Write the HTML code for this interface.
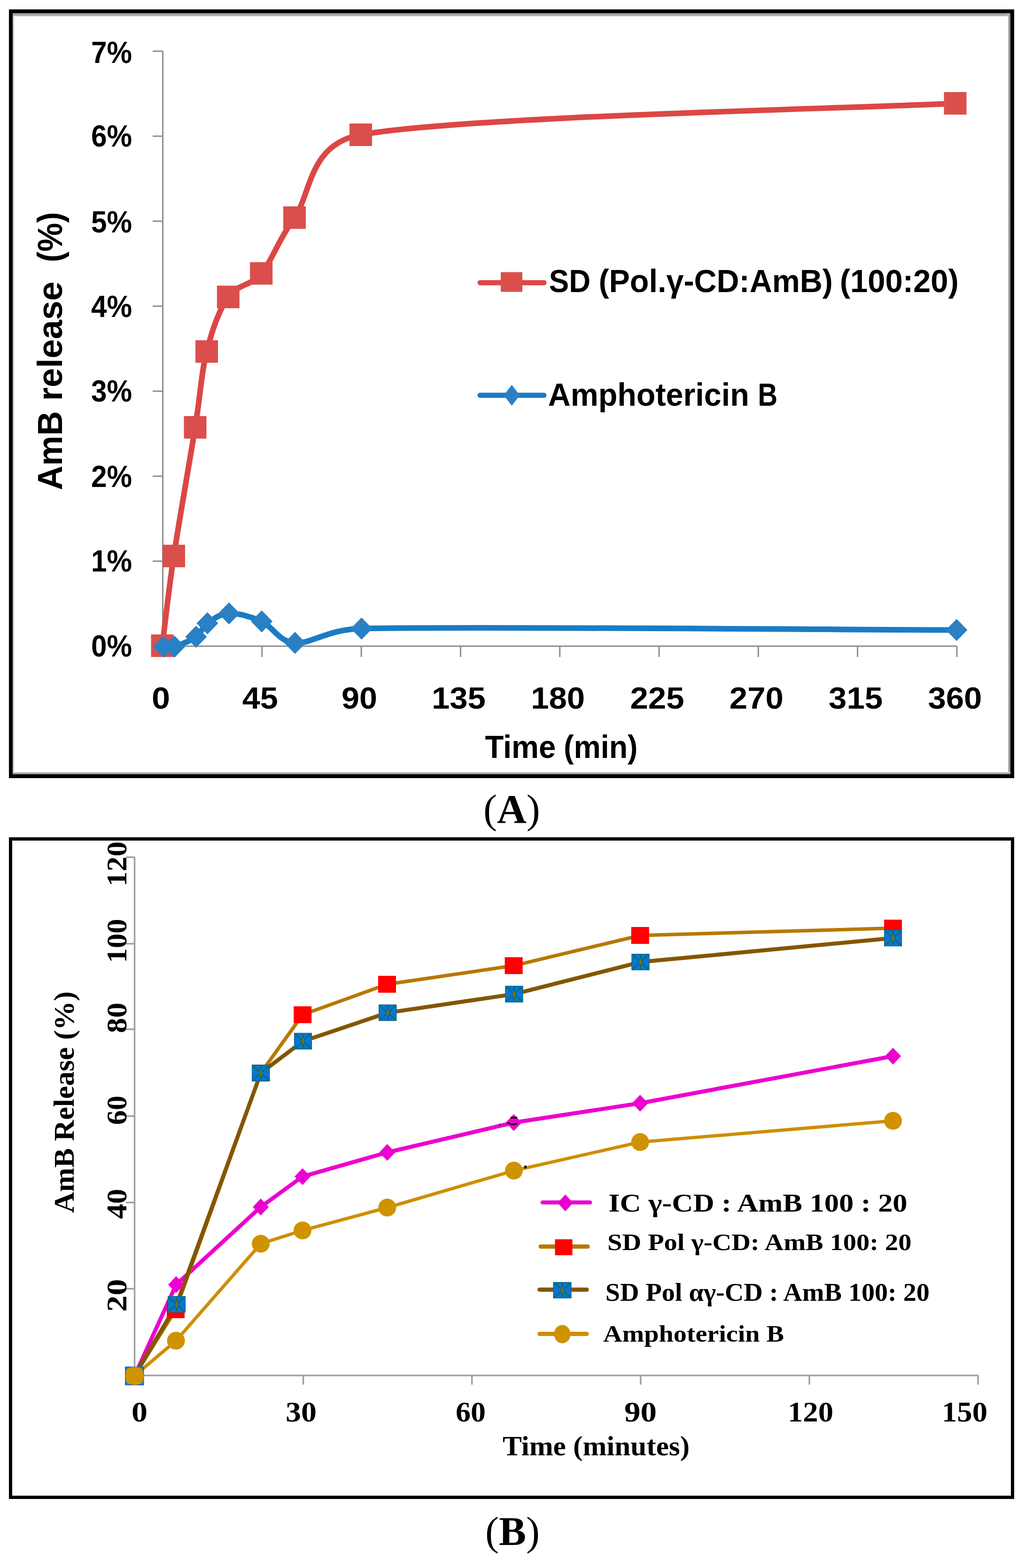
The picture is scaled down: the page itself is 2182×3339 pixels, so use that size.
<!DOCTYPE html>
<html><head><meta charset="utf-8"><title>AmB release</title>
<style>html,body{margin:0;padding:0;background:#fff;}svg{display:block;}</style>
</head><body>
<svg width="2182" height="3339" viewBox="0 0 2182 3339">
<rect x="0" y="0" width="2182" height="3339" fill="#fff"/>
<defs><linearGradient id="gT" x1="0" y1="0" x2="0" y2="1"><stop offset="0" stop-color="#a0a0a0"/><stop offset="0.6" stop-color="#a8a8a8"/><stop offset="1" stop-color="#dcdcdc"/></linearGradient><linearGradient id="gR" x1="0" y1="0" x2="1" y2="0"><stop offset="0" stop-color="#e4e4e4"/><stop offset="0.45" stop-color="#9a9a9a"/><stop offset="1" stop-color="#888"/></linearGradient><linearGradient id="gB" x1="0" y1="0" x2="0" y2="1"><stop offset="0" stop-color="#e8e8e8"/><stop offset="0.45" stop-color="#9a9a9a"/><stop offset="1" stop-color="#888"/></linearGradient></defs>
<rect x="27" y="28" width="3" height="1622" fill="#c8c8c8"/>
<rect x="27" y="28" width="2124" height="7" fill="url(#gT)"/>
<rect x="2145.5" y="28" width="5.5" height="1622" fill="url(#gR)"/>
<rect x="27" y="1644" width="2124" height="6" fill="url(#gB)"/>
<rect x="23" y="24" width="2132" height="1629" fill="none" stroke="#000" stroke-width="8"/>
<g stroke="#8c8c8c" stroke-width="3" fill="none">
<path d="M346.5,109.0 V1376.0"/>
<path d="M346.5,1376.0 H2036.9"/>
<path d="M325,1376.0 H346.5"/>
<path d="M325,1195.0 H346.5"/>
<path d="M325,1014.0 H346.5"/>
<path d="M325,833.0 H346.5"/>
<path d="M325,652.0 H346.5"/>
<path d="M325,471.0 H346.5"/>
<path d="M325,290.0 H346.5"/>
<path d="M325,109.0 H346.5"/>
<path d="M557.8,1376.0 V1399"/>
<path d="M769.1,1376.0 V1399"/>
<path d="M980.4,1376.0 V1399"/>
<path d="M1191.7,1376.0 V1399"/>
<path d="M1403.0,1376.0 V1399"/>
<path d="M1614.3,1376.0 V1399"/>
<path d="M1825.6,1376.0 V1399"/>
<path d="M2036.9,1376.0 V1399"/>
</g>
<text x="281.0" y="1397.5" font-size="64.0" font-family="'Liberation Sans', Arial, sans-serif" font-weight="bold" text-anchor="end" textLength="87.0" lengthAdjust="spacingAndGlyphs">0%</text>
<text x="281.0" y="1217.0" font-size="64.0" font-family="'Liberation Sans', Arial, sans-serif" font-weight="bold" text-anchor="end" textLength="87.0" lengthAdjust="spacingAndGlyphs">1%</text>
<text x="281.0" y="1037.0" font-size="64.0" font-family="'Liberation Sans', Arial, sans-serif" font-weight="bold" text-anchor="end" textLength="87.0" lengthAdjust="spacingAndGlyphs">2%</text>
<text x="281.0" y="854.6" font-size="64.0" font-family="'Liberation Sans', Arial, sans-serif" font-weight="bold" text-anchor="end" textLength="87.0" lengthAdjust="spacingAndGlyphs">3%</text>
<text x="281.0" y="675.0" font-size="64.0" font-family="'Liberation Sans', Arial, sans-serif" font-weight="bold" text-anchor="end" textLength="87.0" lengthAdjust="spacingAndGlyphs">4%</text>
<text x="281.0" y="495.0" font-size="64.0" font-family="'Liberation Sans', Arial, sans-serif" font-weight="bold" text-anchor="end" textLength="87.0" lengthAdjust="spacingAndGlyphs">5%</text>
<text x="281.0" y="312.4" font-size="64.0" font-family="'Liberation Sans', Arial, sans-serif" font-weight="bold" text-anchor="end" textLength="87.0" lengthAdjust="spacingAndGlyphs">6%</text>
<text x="281.0" y="133.6" font-size="64.0" font-family="'Liberation Sans', Arial, sans-serif" font-weight="bold" text-anchor="end" textLength="87.0" lengthAdjust="spacingAndGlyphs">7%</text>
<text x="342.5" y="1508.5" font-size="64.0" font-family="'Liberation Sans', Arial, sans-serif" font-weight="bold" text-anchor="middle" textLength="39.0" lengthAdjust="spacingAndGlyphs">0</text>
<text x="553.8" y="1508.5" font-size="64.0" font-family="'Liberation Sans', Arial, sans-serif" font-weight="bold" text-anchor="middle" textLength="76.0" lengthAdjust="spacingAndGlyphs">45</text>
<text x="765.1" y="1508.5" font-size="64.0" font-family="'Liberation Sans', Arial, sans-serif" font-weight="bold" text-anchor="middle" textLength="76.0" lengthAdjust="spacingAndGlyphs">90</text>
<text x="976.4" y="1508.5" font-size="64.0" font-family="'Liberation Sans', Arial, sans-serif" font-weight="bold" text-anchor="middle" textLength="115.0" lengthAdjust="spacingAndGlyphs">135</text>
<text x="1187.7" y="1508.5" font-size="64.0" font-family="'Liberation Sans', Arial, sans-serif" font-weight="bold" text-anchor="middle" textLength="115.0" lengthAdjust="spacingAndGlyphs">180</text>
<text x="1399.0" y="1508.5" font-size="64.0" font-family="'Liberation Sans', Arial, sans-serif" font-weight="bold" text-anchor="middle" textLength="115.0" lengthAdjust="spacingAndGlyphs">225</text>
<text x="1610.3" y="1508.5" font-size="64.0" font-family="'Liberation Sans', Arial, sans-serif" font-weight="bold" text-anchor="middle" textLength="115.0" lengthAdjust="spacingAndGlyphs">270</text>
<text x="1821.6" y="1508.5" font-size="64.0" font-family="'Liberation Sans', Arial, sans-serif" font-weight="bold" text-anchor="middle" textLength="115.0" lengthAdjust="spacingAndGlyphs">315</text>
<text x="2032.9" y="1508.5" font-size="64.0" font-family="'Liberation Sans', Arial, sans-serif" font-weight="bold" text-anchor="middle" textLength="115.0" lengthAdjust="spacingAndGlyphs">360</text>
<text x="1032.4" y="1614.1" font-size="68.0" font-family="'Liberation Sans', Arial, sans-serif" font-weight="bold" textLength="150.9" lengthAdjust="spacingAndGlyphs">Time</text>
<text x="1200.0" y="1614.1" font-size="68.0" font-family="'Liberation Sans', Arial, sans-serif" font-weight="bold" textLength="157.5" lengthAdjust="spacingAndGlyphs">(min)</text>
<g transform="translate(131.8,1043.7) rotate(-90)">
<text x="0.0" y="0.0" font-size="75.0" font-family="'Liberation Sans', Arial, sans-serif" font-weight="bold" textLength="168.2" lengthAdjust="spacingAndGlyphs">AmB</text>
<text x="190.3" y="0.0" font-size="75.0" font-family="'Liberation Sans', Arial, sans-serif" font-weight="bold" textLength="254.0" lengthAdjust="spacingAndGlyphs">release</text>
<text x="485.2" y="0.0" font-size="75.0" font-family="'Liberation Sans', Arial, sans-serif" font-weight="bold" textLength="106.8" lengthAdjust="spacingAndGlyphs">(%)</text>
</g>
<path d="M345.5,1375.0 C349.6,1343.2 358.3,1261.5 370.0,1184.0 C381.7,1106.5 403.8,982.6 415.5,910.0 C427.2,837.4 428.3,794.8 440.0,748.5 C451.7,702.2 466.4,660.0 485.8,632.3 C505.2,604.6 532.7,610.4 556.2,582.2 C579.7,554.1 591.7,512.6 627.0,463.4 C662.3,414.2 656.7,306.3 768.0,287.0 C1002.4,246.4 1822.6,231.2 2033.5,220.0" fill="none" stroke="#dc4744" stroke-width="12" stroke-linejoin="round"/>
<path d="M348.2,1377.0 C352.1,1377.0 360.3,1380.4 371.4,1377.0 C382.9,1373.5 405.7,1364.3 417.4,1356.0 C429.1,1347.7 429.8,1335.5 441.5,1327.2 C453.2,1318.9 468.2,1307.0 487.5,1306.3 C506.8,1305.6 533.8,1312.8 557.2,1323.3 C580.6,1333.8 592.6,1366.5 628.0,1369.0 C663.4,1371.5 697.2,1339.9 769.7,1338.5 C1004.4,1333.9 1825.3,1341.0 2036.4,1341.5" fill="none" stroke="#1a7cc4" stroke-width="12" stroke-linejoin="round"/>
<rect x="321.5" y="1351.0" width="48" height="48" fill="#da4f4b"/>
<rect x="346.0" y="1160.0" width="48" height="48" fill="#da4f4b"/>
<rect x="391.5" y="886.0" width="48" height="48" fill="#da4f4b"/>
<rect x="416.0" y="724.5" width="48" height="48" fill="#da4f4b"/>
<rect x="461.8" y="608.3" width="48" height="48" fill="#da4f4b"/>
<rect x="532.2" y="558.2" width="48" height="48" fill="#da4f4b"/>
<rect x="603.0" y="439.4" width="48" height="48" fill="#da4f4b"/>
<rect x="744.0" y="263.0" width="48" height="48" fill="#da4f4b"/>
<rect x="2009.5" y="196.0" width="48" height="48" fill="#da4f4b"/>
<path d="M348.2,1353.5 l23,23.5 l-23,23.5 l-23,-23.5 z" fill="#2a80c4"/>
<path d="M371.4,1353.5 l23,23.5 l-23,23.5 l-23,-23.5 z" fill="#2a80c4"/>
<path d="M417.4,1332.5 l23,23.5 l-23,23.5 l-23,-23.5 z" fill="#2a80c4"/>
<path d="M441.5,1303.7 l23,23.5 l-23,23.5 l-23,-23.5 z" fill="#2a80c4"/>
<path d="M487.5,1282.8 l23,23.5 l-23,23.5 l-23,-23.5 z" fill="#2a80c4"/>
<path d="M557.2,1299.8 l23,23.5 l-23,23.5 l-23,-23.5 z" fill="#2a80c4"/>
<path d="M628.0,1345.5 l23,23.5 l-23,23.5 l-23,-23.5 z" fill="#2a80c4"/>
<path d="M769.7,1315.0 l23,23.5 l-23,23.5 l-23,-23.5 z" fill="#2a80c4"/>
<path d="M2036.4,1318.0 l23,23.5 l-23,23.5 l-23,-23.5 z" fill="#2a80c4"/>
<path d="M1022,602 H1158" stroke="#dc4744" stroke-width="11" stroke-linecap="round"/>
<rect x="1066" y="579.5" width="46" height="42" fill="#da4f4b"/>
<path d="M1022,841.7 H1158" stroke="#1a7cc4" stroke-width="11" stroke-linecap="round"/>
<path d="M1089.5,819.5 l17,22.2 l-17,22.2 l-17,-22.2 z" fill="#2a80c4"/>
<text x="1168.8" y="621.5" font-size="68.0" font-family="'Liberation Sans', Arial, sans-serif" font-weight="bold" textLength="88.3" lengthAdjust="spacingAndGlyphs">SD</text>
<text x="1274.4" y="621.5" font-size="68.0" font-family="'Liberation Sans', Arial, sans-serif" font-weight="bold" textLength="498.6" lengthAdjust="spacingAndGlyphs">(Pol.γ-CD:AmB)</text>
<text x="1787.8" y="621.5" font-size="68.0" font-family="'Liberation Sans', Arial, sans-serif" font-weight="bold" textLength="253.0" lengthAdjust="spacingAndGlyphs">(100:20)</text>
<text x="1166.7" y="863.5" font-size="68.0" font-family="'Liberation Sans', Arial, sans-serif" font-weight="bold" textLength="428.1" lengthAdjust="spacingAndGlyphs">Amphotericin</text>
<text x="1613.2" y="863.5" font-size="68.0" font-family="'Liberation Sans', Arial, sans-serif" font-weight="bold" textLength="41.9" lengthAdjust="spacingAndGlyphs">B</text>
<text x="1029" y="1751.7" font-size="87" font-family="'Liberation Serif', 'Times New Roman', serif">(<tspan font-weight="bold">A</tspan>)</text>
<rect x="22.5" y="1786.5" width="2133" height="1402" fill="none" stroke="#000" stroke-width="7"/>
<g stroke="#a0a0a0" stroke-width="3.5" fill="none">
<path d="M286.5,1825.4 V2929.0"/>
<path d="M286.5,2929.0 H2082.5"/>
<path d="M268,1825.4 H286.5"/>
<path d="M268,2009.6 H286.5"/>
<path d="M268,2191.8 H286.5"/>
<path d="M268,2376.7 H286.5"/>
<path d="M268,2560.7 H286.5"/>
<path d="M268,2744.4 H286.5"/>
<path d="M645.6,2929.0 V2948.5"/>
<path d="M1004.7,2929.0 V2948.5"/>
<path d="M1363.8,2929.0 V2948.5"/>
<path d="M1722.9,2929.0 V2948.5"/>
<path d="M2082.0,2929.0 V2948.5"/>
</g>
<text x="0.0" y="0.0" font-size="62.0" font-family="'Liberation Serif', 'Times New Roman', serif" font-weight="bold" textLength="95.5" lengthAdjust="spacingAndGlyphs" transform="translate(268.5,1887.5) rotate(-90)">120</text>
<text x="0.0" y="0.0" font-size="62.0" font-family="'Liberation Serif', 'Times New Roman', serif" font-weight="bold" textLength="93.8" lengthAdjust="spacingAndGlyphs" transform="translate(268.5,2050.5) rotate(-90)">100</text>
<text x="0.0" y="0.0" font-size="62.0" font-family="'Liberation Serif', 'Times New Roman', serif" font-weight="bold" textLength="65.0" lengthAdjust="spacingAndGlyphs" transform="translate(268.5,2200.0) rotate(-90)">80</text>
<text x="0.0" y="0.0" font-size="62.0" font-family="'Liberation Serif', 'Times New Roman', serif" font-weight="bold" textLength="62.4" lengthAdjust="spacingAndGlyphs" transform="translate(268.5,2395.5) rotate(-90)">60</text>
<text x="0.0" y="0.0" font-size="62.0" font-family="'Liberation Serif', 'Times New Roman', serif" font-weight="bold" textLength="64.0" lengthAdjust="spacingAndGlyphs" transform="translate(268.5,2595.5) rotate(-90)">40</text>
<text x="0.0" y="0.0" font-size="62.0" font-family="'Liberation Serif', 'Times New Roman', serif" font-weight="bold" textLength="70.0" lengthAdjust="spacingAndGlyphs" transform="translate(268.5,2793.5) rotate(-90)">20</text>
<text x="280.0" y="3026.5" font-size="62.0" font-family="'Liberation Serif', 'Times New Roman', serif" font-weight="bold" textLength="34.0" lengthAdjust="spacingAndGlyphs">0</text>
<text x="608.0" y="3026.5" font-size="62.0" font-family="'Liberation Serif', 'Times New Roman', serif" font-weight="bold" textLength="66.0" lengthAdjust="spacingAndGlyphs">30</text>
<text x="970.0" y="3026.5" font-size="62.0" font-family="'Liberation Serif', 'Times New Roman', serif" font-weight="bold" textLength="64.0" lengthAdjust="spacingAndGlyphs">60</text>
<text x="1329.0" y="3026.5" font-size="62.0" font-family="'Liberation Serif', 'Times New Roman', serif" font-weight="bold" textLength="69.0" lengthAdjust="spacingAndGlyphs">90</text>
<text x="1677.0" y="3026.5" font-size="62.0" font-family="'Liberation Serif', 'Times New Roman', serif" font-weight="bold" textLength="97.0" lengthAdjust="spacingAndGlyphs">120</text>
<text x="2005.0" y="3026.5" font-size="62.0" font-family="'Liberation Serif', 'Times New Roman', serif" font-weight="bold" textLength="97.0" lengthAdjust="spacingAndGlyphs">150</text>
<text x="1070.0" y="3099.0" font-size="60.0" font-family="'Liberation Serif', 'Times New Roman', serif" font-weight="bold" textLength="398.0" lengthAdjust="spacingAndGlyphs">Time (minutes)</text>
<text x="0.0" y="0.0" font-size="61.0" font-family="'Liberation Serif', 'Times New Roman', serif" font-weight="bold" textLength="472.0" lengthAdjust="spacingAndGlyphs" transform="translate(157.3,2583) rotate(-90)">AmB Release (%)</text>
<path d="M286.6,2929.5 L374.6,2855.0 L555.1,2648.5 L644.0,2620.2 L824.4,2571.5 L1093.9,2492.8 L1362.7,2432.0 L1901.0,2386.7" fill="none" stroke="#cf8d00" stroke-width="7" stroke-linejoin="round"/>
<path d="M286.6,2929.5 L375.0,2735.6 L555.1,2570.2 L644.0,2505.4 L824.4,2454.0 L1093.6,2390.5 L1362.7,2349.2 L1901.0,2249.0" fill="none" stroke="#ec00cf" stroke-width="8.5" stroke-linejoin="round"/>
<path d="M286.6,2929.5 L374.0,2789.0 L555.2,2285.0 L644.2,2160.8 L824.0,2096.0 L1093.6,2056.3 L1362.7,1992.0 L1901.0,1976.4" fill="none" stroke="#b87800" stroke-width="7.5" stroke-linejoin="round"/>
<path d="M286.6,2929.5 L376.0,2777.5 L555.2,2284.9 L645.0,2217.2 L825.2,2156.6 L1094.4,2116.9 L1363.4,2048.6 L1901.0,1997.6" fill="none" stroke="#845600" stroke-width="8.5" stroke-linejoin="round"/>
<path d="M375.0,2717.6 l17.0,18.0 l-17.0,18.0 l-17.0,-18.0 z" fill="#ec00cf"/>
<path d="M555.1,2552.2 l17.0,18.0 l-17.0,18.0 l-17.0,-18.0 z" fill="#ec00cf"/>
<path d="M644.0,2487.4 l17.0,18.0 l-17.0,18.0 l-17.0,-18.0 z" fill="#ec00cf"/>
<path d="M824.4,2436.0 l17.0,18.0 l-17.0,18.0 l-17.0,-18.0 z" fill="#ec00cf"/>
<path d="M1093.6,2372.5 l17.0,18.0 l-17.0,18.0 l-17.0,-18.0 z" fill="#ec00cf"/>
<path d="M1362.7,2331.2 l17.0,18.0 l-17.0,18.0 l-17.0,-18.0 z" fill="#ec00cf"/>
<path d="M1901.0,2231.0 l17.0,18.0 l-17.0,18.0 l-17.0,-18.0 z" fill="#ec00cf"/>
<rect x="355.0" y="2771.0" width="38" height="36" fill="#ff0000"/>
<rect x="536.2" y="2267.0" width="38" height="36" fill="#ff0000"/>
<rect x="625.2" y="2142.8" width="38" height="36" fill="#ff0000"/>
<rect x="805.0" y="2078.0" width="38" height="36" fill="#ff0000"/>
<rect x="1074.6" y="2038.3" width="38" height="36" fill="#ff0000"/>
<rect x="1343.7" y="1974.0" width="38" height="36" fill="#ff0000"/>
<rect x="1882.0" y="1958.4" width="38" height="36" fill="#ff0000"/>
<rect x="357.0" y="2760.0" width="38.0" height="35.0" fill="#0a74d6"/><path d="M359.0,2762.0 L393.0,2793.0 M393.0,2762.0 L359.0,2793.0 M376.0,2762.0 V2793.0" stroke="#00706a" stroke-width="3.2" fill="none"/><ellipse cx="376.0" cy="2777.5" rx="2.5" ry="6" fill="#8a6a10"/><rect x="357.8" y="2760.8" width="36.5" height="33.5" fill="none" stroke="#0a6a8a" stroke-width="1.5"/>
<rect x="536.2" y="2267.4" width="38.0" height="35.0" fill="#0a74d6"/><path d="M538.2,2269.4 L572.2,2300.4 M572.2,2269.4 L538.2,2300.4 M555.2,2269.4 V2300.4" stroke="#00706a" stroke-width="3.2" fill="none"/><ellipse cx="555.2" cy="2284.9" rx="2.5" ry="6" fill="#8a6a10"/><rect x="537.0" y="2268.2" width="36.5" height="33.5" fill="none" stroke="#0a6a8a" stroke-width="1.5"/>
<rect x="626.0" y="2199.7" width="38.0" height="35.0" fill="#0a74d6"/><path d="M628.0,2201.7 L662.0,2232.7 M662.0,2201.7 L628.0,2232.7 M645.0,2201.7 V2232.7" stroke="#00706a" stroke-width="3.2" fill="none"/><ellipse cx="645.0" cy="2217.2" rx="2.5" ry="6" fill="#8a6a10"/><rect x="626.8" y="2200.4" width="36.5" height="33.5" fill="none" stroke="#0a6a8a" stroke-width="1.5"/>
<rect x="806.2" y="2139.1" width="38.0" height="35.0" fill="#0a74d6"/><path d="M808.2,2141.1 L842.2,2172.1 M842.2,2141.1 L808.2,2172.1 M825.2,2141.1 V2172.1" stroke="#00706a" stroke-width="3.2" fill="none"/><ellipse cx="825.2" cy="2156.6" rx="2.5" ry="6" fill="#8a6a10"/><rect x="807.0" y="2139.8" width="36.5" height="33.5" fill="none" stroke="#0a6a8a" stroke-width="1.5"/>
<rect x="1075.4" y="2099.4" width="38.0" height="35.0" fill="#0a74d6"/><path d="M1077.4,2101.4 L1111.4,2132.4 M1111.4,2101.4 L1077.4,2132.4 M1094.4,2101.4 V2132.4" stroke="#00706a" stroke-width="3.2" fill="none"/><ellipse cx="1094.4" cy="2116.9" rx="2.5" ry="6" fill="#8a6a10"/><rect x="1076.2" y="2100.2" width="36.5" height="33.5" fill="none" stroke="#0a6a8a" stroke-width="1.5"/>
<rect x="1344.4" y="2031.1" width="38.0" height="35.0" fill="#0a74d6"/><path d="M1346.4,2033.1 L1380.4,2064.1 M1380.4,2033.1 L1346.4,2064.1 M1363.4,2033.1 V2064.1" stroke="#00706a" stroke-width="3.2" fill="none"/><ellipse cx="1363.4" cy="2048.6" rx="2.5" ry="6" fill="#8a6a10"/><rect x="1345.2" y="2031.8" width="36.5" height="33.5" fill="none" stroke="#0a6a8a" stroke-width="1.5"/>
<rect x="1882.0" y="1980.1" width="38.0" height="35.0" fill="#0a74d6"/><path d="M1884.0,1982.1 L1918.0,2013.1 M1918.0,1982.1 L1884.0,2013.1 M1901.0,1982.1 V2013.1" stroke="#00706a" stroke-width="3.2" fill="none"/><ellipse cx="1901.0" cy="1997.6" rx="2.5" ry="6" fill="#8a6a10"/><rect x="1882.8" y="1980.8" width="36.5" height="33.5" fill="none" stroke="#0a6a8a" stroke-width="1.5"/>
<circle cx="286.6" cy="2929.5" r="19" fill="#cf9200"/>
<circle cx="374.6" cy="2855.0" r="19" fill="#cf9200"/>
<circle cx="555.1" cy="2648.5" r="19" fill="#cf9200"/>
<circle cx="644.0" cy="2620.2" r="19" fill="#cf9200"/>
<circle cx="824.4" cy="2571.5" r="19" fill="#cf9200"/>
<circle cx="1093.9" cy="2492.8" r="19" fill="#cf9200"/>
<circle cx="1362.7" cy="2432.0" r="19" fill="#cf9200"/>
<circle cx="1901.0" cy="2386.7" r="19" fill="#cf9200"/>
<rect x="266" y="2910" width="40.5" height="40" fill="#0a74d6"/>
<rect x="268" y="2912" width="36.5" height="36" rx="9" fill="#cf9200"/>
<circle cx="286.3" cy="2930" r="19.5" fill="#cf9200"/>
<path d="M1087,2380 H1101" stroke="#1a0620" stroke-width="4"/>
<path d="M1080,2390 Q1090,2398 1101,2392" stroke="#1a0620" stroke-width="3.5" fill="none"/>
<rect x="1062" y="2393" width="4" height="3" fill="#3a2a70"/>
<rect x="1116" y="2482" width="5" height="6" fill="#101010"/>
<path d="M1155,2560.5 H1256" stroke="#ec00cf" stroke-width="8.5" stroke-linecap="round"/>
<path d="M1203.5,2543.5 l16.5,18.0 l-16.5,18.0 l-16.5,-18.0 z" fill="#ec00cf"/>
<path d="M1151,2654.5 H1251" stroke="#b87800" stroke-width="9" stroke-linecap="round"/>
<rect x="1181.5" y="2639" width="37" height="34" fill="#ff0000"/>
<path d="M1148.7,2746.2 H1249" stroke="#845600" stroke-width="9" stroke-linecap="round"/>
<rect x="1177.6" y="2730.1" width="38.8" height="34.5" fill="#0a74d6"/><path d="M1179.6,2732.1 L1214.4,2762.6 M1214.4,2732.1 L1179.6,2762.6 M1197.0,2732.1 V2762.6" stroke="#00706a" stroke-width="3.2" fill="none"/><ellipse cx="1197.0" cy="2747.3" rx="2.5" ry="6" fill="#8a6a10"/><rect x="1178.3" y="2730.8" width="37.3" height="33.0" fill="none" stroke="#0a6a8a" stroke-width="1.5"/>
<path d="M1148.7,2840.5 H1249" stroke="#cf8d00" stroke-width="9" stroke-linecap="round"/>
<ellipse cx="1197" cy="2841" rx="17.5" ry="19.5" fill="#cf9200"/>
<text x="1295.3" y="2580.0" font-size="54.5" font-family="'Liberation Serif', 'Times New Roman', serif" font-weight="bold" textLength="636.3" lengthAdjust="spacingAndGlyphs">IC γ-CD : AmB 100 : 20</text>
<text x="1293.1" y="2662.1" font-size="50.0" font-family="'Liberation Serif', 'Times New Roman', serif" font-weight="bold" textLength="647.2" lengthAdjust="spacingAndGlyphs">SD Pol γ-CD: AmB 100: 20</text>
<text x="1288.8" y="2770.4" font-size="55.0" font-family="'Liberation Serif', 'Times New Roman', serif" font-weight="bold" textLength="690.1" lengthAdjust="spacingAndGlyphs">SD Pol αγ-CD : AmB 100: 20</text>
<text x="1284.0" y="2857.3" font-size="51.5" font-family="'Liberation Serif', 'Times New Roman', serif" font-weight="bold" textLength="385.0" lengthAdjust="spacingAndGlyphs">Amphotericin B</text>
<text x="1033" y="3290" font-size="87" font-family="'Liberation Serif', 'Times New Roman', serif">(<tspan font-weight="bold">B</tspan>)</text>
</svg>
</body></html>
